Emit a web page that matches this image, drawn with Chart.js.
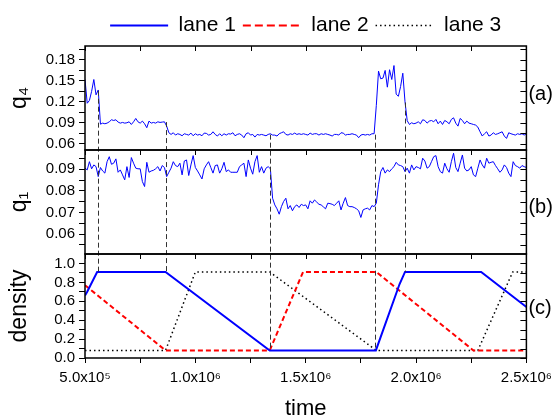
<!DOCTYPE html>
<html>
<head>
<meta charset="utf-8">
<script src="https://cdn.jsdelivr.net/npm/chart.js@4.4.1/dist/chart.umd.min.js"></script>
<style>
  html, body { margin: 0; padding: 0; background: #fff; }
</style>
</head>
<body>
<canvas id="laneChart" width="558" height="419"></canvas>
<script>
// order parameters, sampled every 1e4 time steps from t = 5e5
const sampleStart = 5e5;
const sampleStep = 1e4;

const q4Values = [
  0.152, 0.118, 0.122, 0.135, 0.152, 0.130, 0.137, 0.088, 0.0895, 0.0886,
  0.0895, 0.0914, 0.0943, 0.0933, 0.0943, 0.091, 0.0895, 0.0905, 0.0895, 0.09,
  0.0914, 0.0876, 0.0914, 0.0962, 0.0914, 0.0895, 0.0924, 0.0886, 0.0829, 0.0924,
  0.0895, 0.0905, 0.0895, 0.0914, 0.0905, 0.091, 0.0914, 0.0852, 0.0757, 0.0733,
  0.0757, 0.0724, 0.0743, 0.0733, 0.0714, 0.0743, 0.0733, 0.0724, 0.0752, 0.0714,
  0.0743, 0.0724, 0.0733, 0.0714, 0.0752, 0.0748, 0.0724, 0.0733, 0.0771, 0.0733,
  0.0710, 0.0743, 0.0714, 0.0743, 0.0724, 0.0743, 0.0738, 0.0757, 0.0714, 0.0733,
  0.0743, 0.0724, 0.0686, 0.0743, 0.0757, 0.0724, 0.0733, 0.0695, 0.0733, 0.0724,
  0.0733, 0.0724, 0.0714, 0.0733, 0.0743, 0.0724, 0.0724, 0.0710, 0.0743, 0.0757,
  0.0771, 0.0733, 0.0724, 0.0743, 0.0733, 0.0752, 0.0733, 0.0743, 0.0733, 0.0743,
  0.0733, 0.0724, 0.0752, 0.0733, 0.0743, 0.0743, 0.0724, 0.0743, 0.0733, 0.0743,
  0.0733, 0.0724, 0.0710, 0.0733, 0.0733, 0.0724, 0.0757, 0.0752, 0.0724, 0.0733,
  0.0733, 0.0743, 0.0733, 0.0724, 0.0686, 0.0724, 0.0733, 0.0724, 0.0733, 0.0724,
  0.0743, 0.0743, 0.115, 0.164, 0.153, 0.154, 0.165, 0.141, 0.166, 0.152,
  0.172, 0.131, 0.128, 0.142, 0.161, 0.12, 0.093, 0.0876, 0.09, 0.0886,
  0.0895, 0.0914, 0.0886, 0.0943, 0.0933, 0.0895, 0.0924, 0.0933, 0.0914, 0.0948,
  0.0886, 0.0924, 0.0876, 0.0933, 0.0914, 0.0886, 0.0948, 0.0971, 0.0895, 0.0852,
  0.0962, 0.0933, 0.0886, 0.0924, 0.0895, 0.0886, 0.0876, 0.0867, 0.0838, 0.0771,
  0.0710, 0.0743, 0.0771, 0.0710, 0.0724, 0.0757, 0.0733, 0.0743, 0.0757, 0.0771,
  0.0710, 0.0676, 0.0757, 0.0743, 0.0733, 0.0724, 0.0743, 0.0733, 0.0743, 0.0724,
  0.0743
];

const q1Values = [
  0.0905, 0.0897, 0.0935, 0.0902, 0.092, 0.0912, 0.0866, 0.0908, 0.0892, 0.0882,
  0.0935, 0.0958, 0.0923, 0.0928, 0.0948, 0.0886, 0.0897, 0.0874, 0.0851, 0.0912,
  0.0862, 0.0954, 0.0928, 0.0905, 0.0902, 0.0902, 0.0843, 0.082, 0.0932, 0.0886,
  0.0892, 0.0895, 0.0902, 0.0912, 0.0892, 0.0917, 0.0908, 0.0866, 0.0886, 0.0905,
  0.0935, 0.0917, 0.0912, 0.0928, 0.0874, 0.0938, 0.0943, 0.0871, 0.092, 0.0963,
  0.0908, 0.0892, 0.0874, 0.0855, 0.0902, 0.092, 0.0935, 0.0908, 0.0882, 0.0917,
  0.092, 0.0882, 0.0902, 0.0932, 0.0889, 0.0897, 0.0886, 0.0886, 0.0886, 0.0886,
  0.0912, 0.092, 0.0928, 0.0866, 0.0943, 0.0905, 0.0877, 0.0935, 0.0963, 0.0886,
  0.0912, 0.0882, 0.0905, 0.0912, 0.0902, 0.0766, 0.0735, 0.0717, 0.0692, 0.0727,
  0.0751, 0.0766, 0.0717, 0.0732, 0.0708, 0.0727, 0.0735, 0.0723, 0.0738, 0.0732,
  0.0735, 0.0717, 0.0754, 0.0743, 0.0758, 0.0748, 0.0738, 0.0735, 0.0726, 0.0717,
  0.0743, 0.0741, 0.0738, 0.0732, 0.0743, 0.0754, 0.0712, 0.0743, 0.0769, 0.0732,
  0.0727, 0.0727, 0.0723, 0.0717, 0.0708, 0.0677, 0.0712, 0.0717, 0.072, 0.0712,
  0.0732, 0.0727, 0.0743, 0.0828, 0.0889, 0.0908, 0.0882, 0.0897, 0.0889, 0.0902,
  0.0912, 0.0932, 0.092, 0.0917, 0.0912, 0.0889, 0.0905, 0.0882, 0.092, 0.0897,
  0.0912, 0.0908, 0.0902, 0.0951, 0.0938, 0.0905, 0.0912, 0.0935, 0.0958, 0.0963,
  0.0912, 0.0889, 0.0882, 0.0928, 0.0902, 0.0886, 0.0935, 0.0974, 0.0908, 0.0889,
  0.0928, 0.0966, 0.0905, 0.0892, 0.0897, 0.0912, 0.0874, 0.0866, 0.0905, 0.0943,
  0.092, 0.0905, 0.0951, 0.0928, 0.0932, 0.0935, 0.0917, 0.0902, 0.0886, 0.0897,
  0.092, 0.0908, 0.0882, 0.0866, 0.0935, 0.0917, 0.0912, 0.0905, 0.0917, 0.0912,
  0.0908
];

// lane densities, given at their corner points
const lane1Time = [5.0e5, 5.1e5, 5.55e5, 8.65e5, 1.337e6, 1.818e6, 1.925e6, 1.95e6, 2.295e6, 2.5e6];
const lane1Density = [0.66, 0.70, 0.91, 0.91, 0.08, 0.08, 0.78, 0.91, 0.91, 0.54];
const lane2Time = [5.0e5, 8.65e5, 1.337e6, 1.488e6, 1.82e6, 2.26e6, 2.5e6];
const lane2Density = [0.77, 0.08, 0.08, 0.91, 0.91, 0.08, 0.08];
const lane3Time = [5.0e5, 8.65e5, 1.0e6, 1.337e6, 1.82e6, 2.28e6, 2.438e6, 2.5e6];
const lane3Density = [0.08, 0.08, 0.91, 0.91, 0.08, 0.08, 0.91, 0.91];

// switching instants, linking the q4 trace down to the density panel
const markTimes = [5.57e5, 8.67e5, 1.337e6, 1.816e6, 1.949e6];
const markQ4 = [0.136, 0.091, 0.073, 0.073, 0.119];
const markDensity = [0.91, 0.91, 0.08, 0.08, 0.91];

// axis ticks
const timeTicks = [5e5, 1e6, 1.5e6, 2e6, 2.5e6];
const timeLabels = ['5.0x10\u2075', '1.0x10\u2076', '1.5x10\u2076', '2.0x10\u2076', '2.5x10\u2076'];
const timeMinor = [7.5e5, 1.25e6, 1.75e6, 2.25e6];
const q4Ticks = [0.06, 0.09, 0.12, 0.15, 0.18];
const q4Labels = ['0.06', '0.09', '0.12', '0.15', '0.18'];
const q4Minor = [0.075, 0.105, 0.135, 0.165, 0.195];
const q1Ticks = [0.06, 0.07, 0.08, 0.09];
const q1Labels = ['0.06', '0.07', '0.08', '0.09'];
const q1Minor = [0.055, 0.065, 0.075, 0.085, 0.095];
const denTicks = [0, 0.2, 0.4, 0.6, 0.8, 1.0];
const denLabels = ['0.0', '0.2', '0.4', '0.6', '0.8', '1.0'];
const denMinor = [0.1, 0.3, 0.5, 0.7, 0.9];

const panelTags = ['(a)', '(b)', '(c)'];

const FONT = '"Liberation Sans", Arial, sans-serif';
const sampleTimes = q4Values.map((_, i) => sampleStart + i * sampleStep);
const pairs = (xs, ys) => xs.map((x, i) => ({x: x, y: ys[i]}));

function tickSetter(major, minor) {
  return scale => {
    scale.ticks = major.concat(minor).sort((a, b) => a - b).map(v => ({value: v}));
  };
}
function labelFor(major, labels) {
  return v => {
    const k = major.indexOf(v);
    return k >= 0 ? labels[k] : '';
  };
}

function panelAxis(min, max, major, labels, minor, title) {
  return {
    type: 'linear',
    position: 'left',
    stack: 'panels',
    stackWeight: 1,
    min: min,
    max: max,
    border: {display: false},
    grid: {drawOnChartArea: false, drawTicks: true, tickLength: 6, color: '#000', lineWidth: 1},
    ticks: {color: '#000', font: {family: FONT, size: 15}, padding: 4, autoSkip: false,
            callback: labelFor(major, labels)},
    title: {display: true, text: title, color: '#000', font: {family: FONT, size: 23}, padding: {top: 4, bottom: 0}},
    afterBuildTicks: tickSetter(major, minor),
    afterFit: scale => { scale.width = 83; }
  };
}

// legend entries drawn as short line samples; the dashed one gets longer dashes
function laneLegendItems(chart) {
  const base = Chart.defaults.plugins.legend.labels.generateLabels(chart);
  return base.filter(item => item.datasetIndex >= 2).map(item => {
    const ds = chart.data.datasets[item.datasetIndex];
    item.strokeStyle = ds.borderColor;
    item.lineWidth = ds.borderWidth;
    item.lineDash = item.datasetIndex === 3 ? [8, 4] : (ds.borderDash || []);
    item.lineCap = 'butt';
    return item;
  });
}

// frames, mirrored ticks, switch markers and panel letters
const panelDecor = {
  id: 'panelDecor',
  afterDatasetsDraw(chart) {
    const {ctx, chartArea, scales} = chart;
    const xs = scales.x;
    const panels = [scales.q4, scales.q1, scales.den];
    ctx.save();

    ctx.strokeStyle = '#333';
    ctx.lineWidth = 1;
    ctx.setLineDash([5, 3]);
    markTimes.forEach((t, i) => {
      const px = Math.round(xs.getPixelForValue(t)) + 0.5;
      ctx.beginPath();
      ctx.moveTo(px, scales.q4.getPixelForValue(markQ4[i]));
      ctx.lineTo(px, scales.den.getPixelForValue(markDensity[i]));
      ctx.stroke();
    });
    ctx.setLineDash([]);

    ctx.strokeStyle = '#000';
    ctx.lineWidth = 1;
    panels.forEach(s => {
      ctx.beginPath();
      s.ticks.forEach(tk => {
        const py = Math.round(s.getPixelForValue(tk.value)) + 0.5;
        ctx.moveTo(chartArea.right, py);
        ctx.lineTo(chartArea.right - 6, py);
      });
      xs.ticks.forEach(tk => {
        const px = Math.round(xs.getPixelForValue(tk.value)) + 0.5;
        ctx.moveTo(px, s.top);
        ctx.lineTo(px, s.top + 5);
      });
      ctx.stroke();
    });

    ctx.lineWidth = 1.5;
    panels.forEach(s => {
      ctx.strokeRect(chartArea.left, s.top, chartArea.right - chartArea.left, s.bottom - s.top);
    });

    ctx.fillStyle = '#000';
    ctx.font = '20px ' + FONT;
    ctx.textAlign = 'left';
    ctx.textBaseline = 'middle';
    const shift = [-4, 5, 2];
    panels.forEach((s, i) => {
      ctx.fillText(panelTags[i], chartArea.right + 2, (s.top + s.bottom) / 2 + shift[i]);
    });
    ctx.restore();
  }
};

new Chart(document.getElementById('laneChart'), {
  type: 'line',
  data: {
    datasets: [
      {label: 'q4', data: pairs(sampleTimes, q4Values), yAxisID: 'q4',
       borderColor: '#0000ff', borderWidth: 1},
      {label: 'q1', data: pairs(sampleTimes, q1Values), yAxisID: 'q1',
       borderColor: '#0000ff', borderWidth: 1},
      {label: 'lane 1', data: pairs(lane1Time, lane1Density), yAxisID: 'den',
       borderColor: '#0000ff', borderWidth: 2},
      {label: 'lane 2', data: pairs(lane2Time, lane2Density), yAxisID: 'den',
       borderColor: '#ff0000', borderWidth: 2, borderDash: [5, 3]},
      {label: 'lane 3', data: pairs(lane3Time, lane3Density), yAxisID: 'den',
       borderColor: '#000000', borderWidth: 1.5, borderDash: [1.5, 3]}
    ]
  },
  options: {
    responsive: false,
    devicePixelRatio: 1,
    animation: false,
    layout: {padding: {left: 2, right: 31, top: 8, bottom: 0}},
    elements: {point: {radius: 0}, line: {tension: 0, fill: false}},
    plugins: {
      tooltip: {enabled: false},
      legend: {
        position: 'top',
        fullSize: false,
        labels: {
          usePointStyle: true,
          pointStyle: 'line',
          pointStyleWidth: 58,
          padding: 7,
          color: '#000',
          font: {family: FONT, size: 21},
          generateLabels: laneLegendItems
        }
      }
    },
    scales: {
      x: {
        type: 'linear',
        position: 'bottom',
        min: 5e5,
        max: 2.5e6,
        border: {display: false},
        grid: {drawOnChartArea: false, drawTicks: true, tickLength: 5, color: '#000', lineWidth: 1},
        ticks: {color: '#000', font: {family: FONT, size: 15}, padding: 6, maxRotation: 0, autoSkip: false,
                callback: labelFor(timeTicks, timeLabels)},
        title: {display: true, text: 'time', color: '#000', font: {family: FONT, size: 22, lineHeight: 0.9}, padding: 0},
        afterBuildTicks: tickSetter(timeTicks, timeMinor),
        afterFit: scale => { scale.height = 61; }
      },
      den: panelAxis(0, 1.1, denTicks, denLabels, denMinor, 'density'),
      q1: panelAxis(0.0508, 0.0989, q1Ticks, q1Labels, q1Minor, 'q\u2081'),
      q4: panelAxis(0.051, 0.2, q4Ticks, q4Labels, q4Minor, 'q\u2084')
    }
  },
  plugins: [panelDecor]
});
</script>
</body>
</html>
